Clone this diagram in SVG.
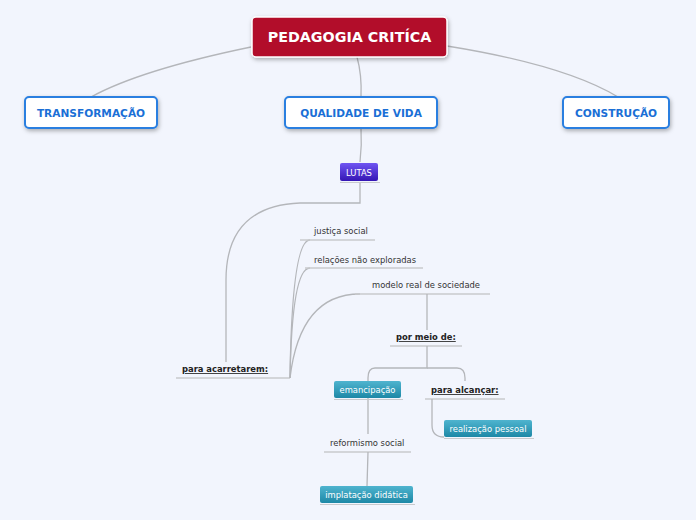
<svg xmlns="http://www.w3.org/2000/svg" width="696" height="520" viewBox="0 0 696 520">
<defs>
<linearGradient id="gPurple" x1="0" y1="0" x2="0" y2="1"><stop offset="0" stop-color="#6f55f2"/><stop offset="1" stop-color="#3516b4"/></linearGradient>
<linearGradient id="gTeal" x1="0" y1="0" x2="0" y2="1"><stop offset="0" stop-color="#4fb4cf"/><stop offset="1" stop-color="#1d88a6"/></linearGradient>
<filter id="sh" x="-10%" y="-20%" width="120%" height="150%"><feDropShadow dx="1" dy="2" stdDev="1.2" flood-color="#000" flood-opacity="0.3"/></filter>
<style>
.bg{fill:#f2f5fd}
.conn path{fill:none;stroke:#b4b6ba;stroke-width:1.3}
.conn .l{stroke:#c8cacd;stroke-width:1.5}
.blue rect{fill:#fff;stroke:#2a7fe0;stroke-width:2}
.blue text{fill:#1a6fd6;font:bold 10.6px "DejaVu Sans",sans-serif;text-anchor:middle}
.small text{fill:#fff;font:8.4px "DejaVu Sans",sans-serif;text-anchor:middle}
.plain text{fill:#333;font:8.4px "DejaVu Sans",sans-serif;text-anchor:start}
.bold text{fill:#222;font:bold 8.4px "DejaVu Sans",sans-serif;text-decoration:underline;text-anchor:start}
</style>
</defs>
<rect class="bg" width="696" height="520"/>
<g class="conn">
<path d="M251,47 Q140,70 91,97"/>
<path d="M447,46 Q565,65 618,97"/>
<path d="M357,57 Q362,75 361,97"/>
<path d="M361,128 Q362,145 360,162"/>
<path d="M360,182 L360,203 L300,203 Q226,206 226,280 L226,362"/>
<path class="l" d="M176,378 L290,378"/>
<path d="M290,378 Q292,240 310,240"/>
<path d="M290,378 Q292,268 310,268"/>
<path d="M290,378 Q300,294 360,294"/>
<path class="l" d="M300,240 L375,240"/>
<path class="l" d="M305,268 L423,268"/>
<path class="l" d="M355,294 L490,294"/>
<path d="M427,294 L427,330"/>
<path class="l" d="M390,346 L462,346"/>
<path d="M427,346 L427,368 L375,368 Q368,368 368,378 L368,381"/>
<path d="M427,368 L457,368 Q465,368 465,378 L465,381"/>
<path class="l" d="M425,399 L505,399"/>
<path d="M432,399 L432,425 Q432,437 444,437"/>
<path d="M368,398 L368,434"/>
<path class="l" d="M324,452 L411,452"/>
<path d="M368,452 L367,486"/>
</g>
<g id="root"><rect x="252" y="17" width="195" height="40" rx="4" fill="#b20d2c" stroke="#fff" stroke-width="1.5" filter="url(#sh)"/><text x="349.5" y="42" fill="#fff" text-anchor="middle" style="font:bold 14.3px 'DejaVu Sans',sans-serif">PEDAGOGIA CRITÍCA</text></g>
<g id="transformacao" class="blue"><rect x="25" y="97" width="132" height="31" rx="4" filter="url(#sh)"/><text x="91" y="117">TRANSFORMAÇÃO</text></g>
<g id="qualidade" class="blue"><rect x="285" y="97" width="152" height="31" rx="4" filter="url(#sh)"/><text x="361" y="117">QUALIDADE DE VIDA</text></g>
<g id="construcao" class="blue"><rect x="563" y="97" width="106" height="31" rx="4" filter="url(#sh)"/><text x="616" y="117">CONSTRUÇÃO</text></g>
<g id="lutas" class="small"><rect x="340" y="163" width="38" height="18" rx="2" fill="url(#gPurple)"/><path d="M340,182.5 L380,182.5" stroke="#c8cacd"/><text x="359" y="176">LUTAS</text></g>
<g id="acarretarem" class="bold"><text x="182" y="372">para acarretarem:</text></g>
<g id="justica" class="plain"><text x="314" y="234">justiça social</text></g>
<g id="relacoes" class="plain"><text x="314" y="263">relações não exploradas</text></g>
<g id="modelo" class="plain"><text x="372" y="288">modelo real de sociedade</text></g>
<g id="pormeio" class="bold"><text x="396" y="340">por meio de:</text></g>
<g id="emancipacao" class="small"><rect x="334" y="381" width="67" height="17" rx="2" fill="url(#gTeal)"/><path d="M334,399.5 L403,399.5" stroke="#c8cacd"/><text x="367.5" y="393">emancipação</text></g>
<g id="alcancar" class="bold"><text x="431" y="393">para alcançar:</text></g>
<g id="realizacao" class="small"><rect x="444" y="420" width="88" height="17" rx="2" fill="url(#gTeal)"/><path d="M444,438.5 L534,438.5" stroke="#c8cacd"/><text x="488" y="432">realização pessoal</text></g>
<g id="reformismo" class="plain"><text x="330" y="446">reformismo social</text></g>
<g id="implatacao" class="small"><rect x="320" y="486" width="93" height="17" rx="2" fill="url(#gTeal)"/><path d="M320,504.5 L415,504.5" stroke="#c8cacd"/><text x="366.5" y="498">implatação didática</text></g>
</svg>
